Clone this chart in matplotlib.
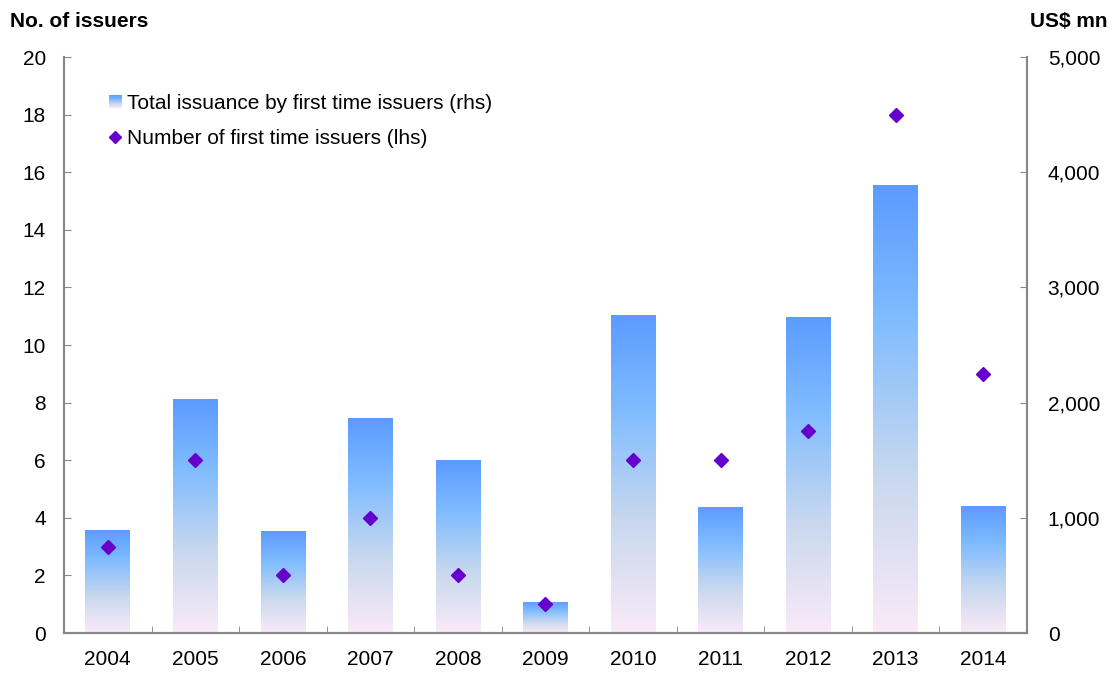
import numpy as np
import matplotlib
matplotlib.use("Agg")
from matplotlib import pyplot as plt
from matplotlib.colors import LinearSegmentedColormap
from matplotlib.legend_handler import HandlerBase
from matplotlib.patches import Rectangle
from matplotlib.ticker import FuncFormatter, MultipleLocator

plt.rcParams['font.family'] = ['Liberation Sans', 'DejaVu Sans']

# Data
years = ['2004', '2005', '2006', '2007', '2008', '2009', '2010', '2011', '2012', '2013', '2014']
issuance_usd_mn = [895, 2030, 885, 1865, 1500, 270, 2760, 1095, 2745, 3890, 1100]
num_issuers = [3, 6, 2, 4, 2, 1, 6, 6, 7, 18, 9]

# Gradient used for the bars: pale pink at bottom to blue at top
bar_cmap = LinearSegmentedColormap.from_list(
    'bar_grad', [(0.0, '#FAEAF8'), (0.35, '#C8D8EE'), (0.7, '#80BCFF'), (1.0, '#5B9BFF')])
diamond_color = '#6600CC'
spine_color = '#888888'
fs = 15


class GradientHandler(HandlerBase):
    # Draws a small gradient square in the legend
    def create_artists(self, legend, orig_handle, xdescent, ydescent, width, height, fontsize, trans):
        side = height * 0.9
        x0 = xdescent + width - side
        y0 = -ydescent + (height - side) / 2
        n = 12
        artists = []
        for i in range(n):
            r = Rectangle((x0, y0 + side * i / n), side, side / n + 0.2,
                          facecolor=bar_cmap((i + 0.5) / n), edgecolor='none', transform=trans)
            artists.append(r)
        return artists


fig = plt.figure(figsize=(11.15, 6.73), dpi=100)
ax = fig.add_axes([0.0574, 0.0594, 0.8636, 0.8559])
ax2 = ax.twinx()

x = np.arange(len(years))

# Bars on the right axis, filled with a vertical gradient each
bars = ax2.bar(x, issuance_usd_mn, width=0.51, color='none', edgecolor='none', zorder=1)
grad = np.linspace(0, 1, 256).reshape(-1, 1)
for rect in bars:
    bx, by = rect.get_x(), rect.get_y()
    bw, bh = rect.get_width(), rect.get_height()
    im = ax2.imshow(grad, cmap=bar_cmap, origin='lower', aspect='auto',
                    extent=[bx, bx + bw, by, by + bh], zorder=1, interpolation='bicubic')
    im.set_clip_path(rect)

ax2.set_ylim(0, 5000)
ax2.set_xlim(-0.5, len(years) - 0.5)
ax2.yaxis.set_major_locator(MultipleLocator(1000))
ax2.yaxis.set_major_formatter(FuncFormatter(lambda v, p: f'{int(v):,}'))

# Diamonds on the left axis; put the left axis on top of the bars
ax.set_zorder(ax2.get_zorder() + 1)
ax.patch.set_visible(False)
ax.plot(x, num_issuers, linestyle='none', marker='D', markersize=7.5,
        color=diamond_color, zorder=3)
ax.set_ylim(0, 20)
ax.set_xlim(-0.5, len(years) - 0.5)
ax.yaxis.set_major_locator(MultipleLocator(2))

ax.set_xticks(x)
ax.set_xticklabels(years)
ax.set_xticks(np.arange(len(years) - 1) + 0.5, minor=True)

for a in (ax, ax2):
    a.spines['top'].set_visible(False)
    for s in ('left', 'right', 'bottom'):
        a.spines[s].set_color(spine_color)
        a.spines[s].set_linewidth(1.5)
    a.tick_params(axis='y', direction='in', length=5, color=spine_color, labelsize=fs)
ax.tick_params(axis='x', which='major', length=0, labelsize=fs, pad=12)
ax.tick_params(axis='x', which='minor', direction='in', length=5, color=spine_color)
ax.tick_params(axis='y', pad=13)
ax2.tick_params(axis='y', pad=15)

fig.text(0.009, 0.968, 'No. of issuers', fontsize=fs, fontweight='bold', ha='left', va='center')
fig.text(0.993, 0.968, 'US$ mn', fontsize=fs, fontweight='bold', ha='right', va='center')

# Legend
bar_handle = Rectangle((0, 0), 1, 1)
dia_handle, = ax.plot([], [], linestyle='none', marker='D', markersize=6.5, color=diamond_color)
ax.legend([bar_handle, dia_handle],
          ['Total issuance by first time issuers (rhs)', 'Number of first time issuers (lhs)'],
          handler_map={Rectangle: GradientHandler()},
          loc='upper left', bbox_to_anchor=(0.025, 0.968), frameon=False, fontsize=fs,
          handlelength=0.75, handletextpad=0.2, labelspacing=0.78)

fig.savefig('out.png', dpi=100)
